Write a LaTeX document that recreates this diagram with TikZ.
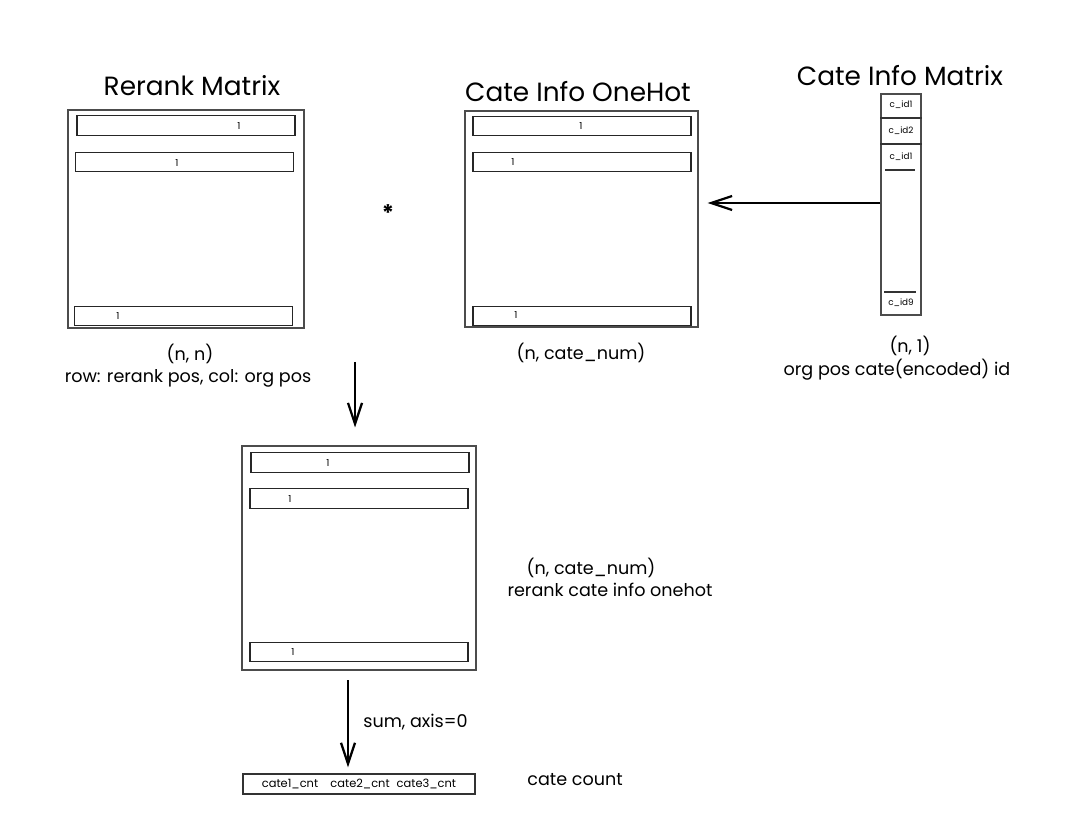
\documentclass[tikz,border=0pt]{standalone}
\usepackage{fontspec}
\setmainfont{Poppins}
\usetikzlibrary{arrows.meta}
\begin{document}
\begin{tikzpicture}[x=0.02cm,y=-0.02cm,
  title/.style={font=\fontsize{15}{17}\selectfont, inner sep=0pt},
  lbl/.style={font=\fontsize{10}{12}\selectfont, inner sep=0pt},
  tiny/.style={font=\fontsize{5}{6}\selectfont, inner sep=0pt},
  outerbox/.style={draw=black!70, line width=0.6pt, inner sep=0pt},
  rowbox/.style={draw=black!85, line width=0.7pt, inner sep=0pt, minimum width=4.36cm, minimum height=0.39cm},
  one/.style={font=\fontsize{5.5}{6}\selectfont, inner sep=0pt},
  arr/.style={line width=1.3pt, -{Straight Barb[length=0.42cm,width=0.28cm,line width=1.3pt]}},
  sep/.style={draw=black!80, line width=0.7pt}]
\useasboundingbox (0,0) rectangle (1080,828);
\fill[white] (0,0) rectangle (1080,828);

% titles
\node[title] (t1) at (192,86) {Rerank Matrix};
\node[title] (t2) at (578,92) {Cate Info OneHot};
\node[title] (t3) at (900,76) {Cate Info Matrix};

% Rerank matrix
\node[outerbox, minimum width=4.72cm, minimum height=4.36cm] (rr) at (186,219) {};
\node[rowbox] (rr1) at (186,125.5) {};
\node[rowbox] (rr2) at (184.5,162) {};
\node[rowbox] (rr3) at (183.5,316) {};
\node[one] (rr1v) at (239,126) {1};
\node[one] (rr2v) at (177,163) {1};
\node[one] (rr3v) at (118,316) {1};

% OneHot matrix
\node[outerbox, minimum width=4.66cm, minimum height=4.32cm] (oh) at (581.5,219) {};
\node[rowbox] (oh1) at (582,126) {};
\node[rowbox] (oh2) at (582,162) {};
\node[rowbox] (oh3) at (582,316) {};
\node[one] (oh1v) at (581,126) {1};
\node[one] (oh2v) at (513,162) {1};
\node[one] (oh3v) at (516,315) {1};

% star
\node[font=\fontsize{13}{14}\selectfont\bfseries, inner sep=0pt] (star) at (388,213) {*};

% Cate info matrix column
\node[outerbox, minimum width=0.8cm, minimum height=4.42cm] (col) at (901,204.5) {};
\node[tiny] (c1) at (901,105) {c\_id1};
\node[tiny] (c2) at (901,131) {c\_id2};
\node[tiny] (c3) at (901,157) {c\_id1};
\node[tiny] (c9) at (901,303) {c\_id9};
\draw[sep] (col.west |- 0,118) -- (col.east |- 0,118);
\draw[sep] (col.west |- 0,144) -- (col.east |- 0,144);
\draw[sep] (885,170) -- (915,170);
\draw[sep] (884,292) -- (916,292);

% labels under top row
\node[lbl] (l1a) at (190,354) {(n, n)};
\node[lbl] (l1b) at (188,378) {row: rerank pos, col: org pos};
\node[lbl] (l2) at (581,353) {(n, cate\_num)};
\node[lbl] (l3a) at (910,346) {(n, 1)};
\node[lbl] (l3b) at (897,370) {org pos cate(encoded) id};

% horizontal arrow
\draw[arr] (col.west |- 0,203) -- ([xshift=0.18cm]oh.east |- 0,203);

% result matrix
\node[outerbox, minimum width=4.68cm, minimum height=4.48cm] (res) at (359,558) {};
\node[rowbox] (res1) at (360,462.5) {};
\node[rowbox] (res2) at (359,498.5) {};
\node[rowbox] (res3) at (359,652) {};
\node[one] (res1v) at (328,463) {1};
\node[one] (res2v) at (290,499) {1};
\node[one] (res3v) at (293,652) {1};
\node[lbl] (l4a) at (591,568) {(n, cate\_num)};
\node[lbl] (l4b) at (610,590) {rerank cate info onehot};

% arrow 1
\coordinate (a1s) at (355,362);
\draw[arr, shorten >=0.36cm] (a1s) -- (a1s |- res.north);

% bottom box
\node[draw=black!80, line width=0.7pt, inner sep=0pt, minimum width=4.64cm, minimum height=0.4cm, font=\fontsize{6.5}{7}\selectfont] (cnt) at (359,784) {cate1\_cnt\hspace{7pt}cate2\_cnt\hspace{4pt}cate3\_cnt};
\node[lbl] (cl) at (575,780) {cate count};

% arrow 2
\coordinate (a2s) at (348,680);
\draw[arr, shorten >=0.12cm] (a2s) -- (a2s |- cnt.north);
\node[lbl, anchor=west] (sum) at (363,722) {sum, axis=0};
\end{tikzpicture}
\end{document}
